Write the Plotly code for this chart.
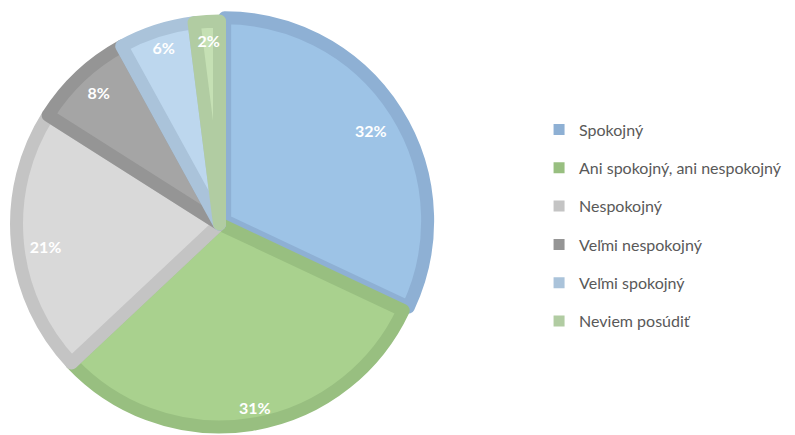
import plotly.graph_objects as go

labels = ["Spokojný", "Ani spokojný, ani nespokojný", "Nespokojný",
          "Veľmi nespokojný", "Veľmi spokojný", "Neviem posúdiť"]
values = [32, 31, 21, 8, 6, 2]
fill_colors = ["#9DC3E6", "#A9D18E", "#D9D9D9", "#A5A5A5", "#BDD7EE", "#C5E0B4"]
edge_colors = ["#8EB0D4", "#98BF80", "#C4C4C4", "#959595", "#AAC3DA", "#B1CCA2"]
pulls = [0.03, 0, 0, 0, 0, 0]

W, H = 795, 435
MT = 0
plot_w, plot_h = W, H - MT
# main pie domain (paper fractions)
dx = [0.0030, 0.5291]
dy = [0.0228, 0.9841]
cx = (dx[0] + dx[1]) / 2
cy = (dy[0] + dy[1]) / 2

# label placement style: (radius px of invisible carrier pie, rotation tweak deg, x nudge px)
label_style = [(159, -2.3, 0), (175, 4.2, 0), (155, -2.8, 0),
               (164, 3.4, 0), (172, 4.6, 0), (174, 3.0, 7)]

fig = go.Figure()
fig.add_trace(go.Pie(
    labels=labels, values=values, sort=False, direction="clockwise", rotation=0,
    marker=dict(colors=fill_colors, line=dict(color=edge_colors, width=13)),
    pull=pulls, textinfo="none",
    showlegend=False, domain=dict(x=dx, y=dy),
    hoverinfo="label+percent",
))
for k, (r, rot, nx) in enumerate(label_style):
    tt = ["%{percent:.0%}" if i == k else "" for i in range(len(values))]
    ccx = cx + nx / plot_w
    fig.add_trace(go.Pie(
        labels=labels, values=values, sort=False, direction="clockwise", rotation=rot,
        marker=dict(colors=["rgba(0,0,0,0)"] * len(values), line=dict(width=0)),
        texttemplate=tt, textposition="outside",
        textfont=dict(family="Lato", size=16, color="white", weight="bold"),
        showlegend=False, hoverinfo="skip", automargin=False,
        domain=dict(x=[ccx - r / plot_w, ccx + r / plot_w],
                    y=[cy - r / plot_h, cy + r / plot_h]),
    ))
for lab, col in zip(labels, edge_colors):
    fig.add_trace(go.Scatter(
        x=[None], y=[None], mode="markers", name=lab, legendgroup=lab,
        marker=dict(symbol="square", size=11, color=col),
    ))

fig.update_layout(
    width=W, height=H,
    margin=dict(l=0, r=0, t=MT, b=0),
    paper_bgcolor="white", plot_bgcolor="white",
    xaxis=dict(visible=False), yaxis=dict(visible=False),
    legend=dict(x=0.668, y=0.7595, xanchor="left", yanchor="top",
                font=dict(family="Lato", size=16, color="#595959"),
                tracegroupgap=14.5, itemwidth=30, traceorder="grouped"),
)
fig.write_html("out.html")
